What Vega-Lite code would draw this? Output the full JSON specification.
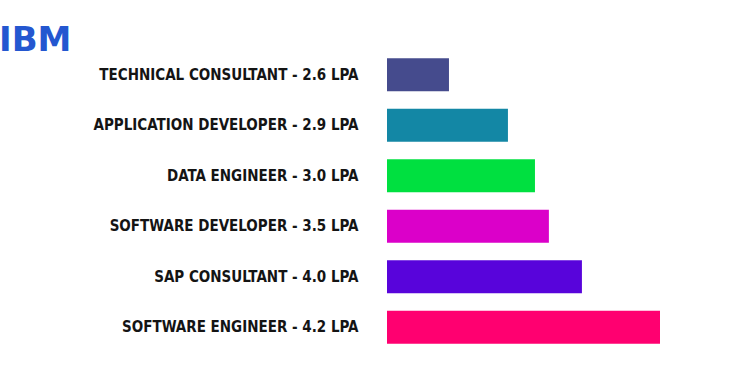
{
  "$schema": "https://vega.github.io/schema/vega-lite/v6.json",
  "width": 273,
  "height": 290,
  "autosize": {"type": "none"},
  "padding": {"left": 387, "top": 56, "right": 80, "bottom": 33},
  "background": "white",
  "title": {
    "text": "IBM",
    "anchor": "start",
    "frame": "group",
    "align": "left",
    "baseline": "bottom",
    "offset": 4,
    "dx": -388,
    "dy": 40,
    "font": "DejaVu Sans",
    "fontSize": 34,
    "fontWeight": "bold",
    "color": "#2457D0"
  },
  "data": {
    "values": [
      {"label": "TECHNICAL CONSULTANT - 2.6 LPA", "lpa": 2.6, "length": 22.7, "color": "#454B8D"},
      {"label": "APPLICATION DEVELOPER - 2.9 LPA", "lpa": 2.9, "length": 44.3, "color": "#1387A5"},
      {"label": "DATA ENGINEER - 3.0 LPA", "lpa": 3.0, "length": 54.2, "color": "#00E040"},
      {"label": "SOFTWARE DEVELOPER - 3.5 LPA", "lpa": 3.5, "length": 59.3, "color": "#DB00C9"},
      {"label": "SAP CONSULTANT - 4.0 LPA", "lpa": 4.0, "length": 71.4, "color": "#5804DB"},
      {"label": "SOFTWARE ENGINEER - 4.2 LPA", "lpa": 4.2, "length": 100, "color": "#FF0070"}
    ]
  },
  "mark": {"type": "bar"},
  "encoding": {
    "y": {
      "field": "label",
      "type": "nominal",
      "sort": {"field": "lpa", "order": "ascending"},
      "scale": {"paddingInner": 0.345, "paddingOuter": 0.046},
      "axis": {
        "title": null,
        "domain": false,
        "ticks": false,
        "labelPadding": 29,
        "labelFont": "DejaVu Sans Condensed, sans-serif",
        "labelFontSize": 15,
        "labelFontWeight": "bold",
        "labelColor": "#141414",
        "labelLimit": 400
      }
    },
    "x": {
      "field": "length",
      "type": "quantitative",
      "scale": {"domain": [0, 100]},
      "axis": null
    },
    "color": {"field": "color", "type": "nominal", "scale": null, "legend": null}
  },
  "config": {"view": {"stroke": null}}
}
